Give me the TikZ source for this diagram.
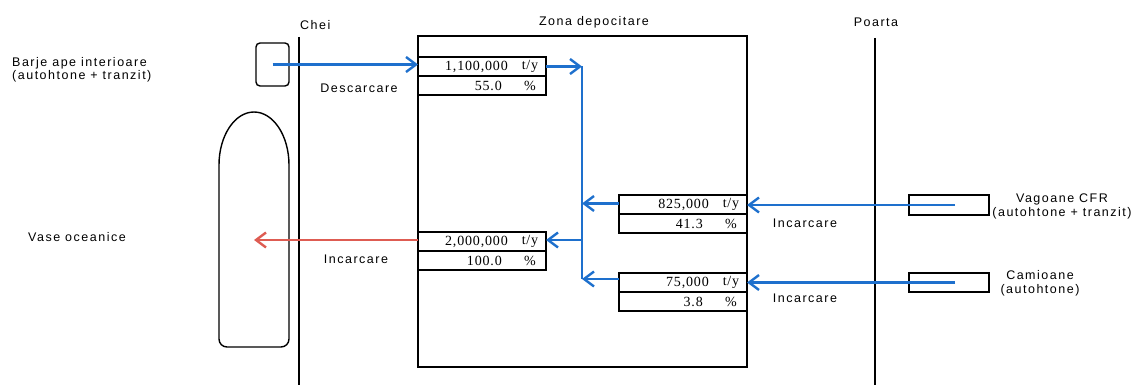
\documentclass[tikz,border=0pt]{standalone}
\usepackage{fontspec}
\setmainfont[LetterSpace=12]{Liberation Sans}
\newfontfamily\numfont[LetterSpace=6]{Liberation Serif}
\usetikzlibrary{arrows.meta}
\definecolor{flowblue}{RGB}{30,112,205}
\definecolor{flowred}{RGB}{222,92,82}
\begin{document}
\begin{tikzpicture}[x=1pt,y=-1pt,
  lbl/.style={font=\fontsize{12.5}{13.5}\selectfont, inner sep=0pt, align=center},
  rowbox/.style={draw, line width=1.4pt, minimum width=128pt, minimum height=19pt, inner sep=0pt, outer sep=0pt, anchor=north west},
  num/.style={font=\numfont\fontsize{14}{14}\selectfont, inner sep=0pt, anchor=east},
  unit/.style={font=\numfont\fontsize{14}{14}\selectfont, inner sep=0pt},
  wall/.style={line width=1.4pt},
  plainbox/.style={draw, line width=1.4pt, inner sep=0pt, outer sep=0pt, anchor=north west},
  flowline/.style={line width=2.8pt, flowblue},
  flow/.style={flowline, -{Straight Barb[length=10pt,width=15pt,line width=2.4pt]}},
  redflow/.style={line width=2.8pt, flowred, -{Straight Barb[length=10pt,width=15pt,line width=2.4pt]}},
]
\useasboundingbox (0,0) rectangle (1144,385);

% walls
\coordinate (cheiTop) at (299,37);
\coordinate (cheiBot) at (299,385);
\coordinate (poartaTop) at (875,38);
\coordinate (poartaBot) at (875,385);
\draw[wall] (cheiTop) -- (cheiBot);
\draw[wall] (poartaTop) -- (poartaBot);
\node[lbl, anchor=west] (chei) at (300,25) {Chei};
\node[lbl] (poarta) at (876,22) {Poarta};

% storage zone
\node[plainbox, minimum width=329pt, minimum height=331pt] (zone) at (418,36) {};
\node[lbl] (zonet) at (594,22) {Zona depocitare};

% ship
\draw[wall] (219,165) .. controls (219,135.7) and (234.7,112) .. (254,112)
  .. controls (273.3,112) and (289,135.7) .. (289,165)
  [rounded corners=8pt] -- (289,347) -- (219,347) -- (219,165);
\coordinate (shipc) at (254,240);

% barge box
\node[plainbox, rounded corners=4pt, minimum width=33pt, minimum height=43pt] (barje) at (256,43) {};

% wagons and trucks
\node[plainbox, minimum width=80pt, minimum height=20pt] (vag) at (909,195) {};
\node[plainbox, minimum width=80pt, minimum height=19pt] (cam) at (909,273) {};

% data boxes
\node[rowbox] (b1a) at (418,57) {};
\node[rowbox] (b1b) at (b1a.south west) {};
\node[num] at ([xshift=-38pt]b1a.east) {1,100,000};
\node[unit] at ([xshift=-16pt]b1a.east) {t/y};
\node[num] at ([xshift=-44pt]b1b.east) {55.0};
\node[unit] at ([xshift=-16pt]b1b.east) {\%};

\node[rowbox] (b2a) at (619,195) {};
\node[rowbox] (b2b) at (b2a.south west) {};
\node[num] at ([xshift=-38pt]b2a.east) {825,000};
\node[unit] at ([xshift=-16pt]b2a.east) {t/y};
\node[num] at ([xshift=-44pt]b2b.east) {41.3};
\node[unit] at ([xshift=-16pt]b2b.east) {\%};

\node[rowbox] (b3a) at (418,232) {};
\node[rowbox] (b3b) at (b3a.south west) {};
\node[num] at ([xshift=-38pt]b3a.east) {2,000,000};
\node[unit] at ([xshift=-16pt]b3a.east) {t/y};
\node[num] at ([xshift=-44pt]b3b.east) {100.0};
\node[unit] at ([xshift=-16pt]b3b.east) {\%};

\node[rowbox] (b4a) at (619,273) {};
\node[rowbox] (b4b) at (b4a.south west) {};
\node[num] at ([xshift=-38pt]b4a.east) {75,000};
\node[unit] at ([xshift=-16pt]b4a.east) {t/y};
\node[num] at ([xshift=-44pt]b4b.east) {3.8};
\node[unit] at ([xshift=-16pt]b4b.east) {\%};

% labels
\node[lbl, anchor=west, align=left] (barjeL) at (12,70) {Barje ape interioare\\(autohtone + tranzit)};
\node[lbl] (desc) at (359,88) {Descarcare};
\node[lbl] (vase) at (77,237) {Vase oceanice};
\node[lbl] (inc1) at (356,259) {Incarcare};
\node[lbl] (inc2) at (805,223) {Incarcare};
\node[lbl] (inc3) at (805,298) {Incarcare};
\node[lbl] (vagL) at (1062,206.5) {Vagoane CFR\\(autohtone + tranzit)};
\node[lbl] (camL) at (1040,283.5) {Camioane\\(autohtone)};

% flows
\coordinate (jx) at (582,0);
\coordinate (jtop) at (b1a.east -| jx);
\coordinate (jbot) at ([yshift=3.5pt]b4a.west -| jx);
\draw[flowline] (jtop) -- (jbot);
\draw[flow] (barje.center) -- (barje.center -| b1a.west);
\draw[flow] (b1a.east) -- (jtop);
\draw[flow] ([yshift=1pt]b2a.west) -- ([yshift=1pt]b2a.west -| jx);
\draw[flow] ([yshift=1.5pt]b3a.east -| jx) -- ([yshift=1.5pt]b3a.east);
\draw[flow] ([yshift=3.5pt]b4a.west) -- (jbot);
\draw[flow] ([xshift=6pt]vag.center) -- (vag.center -| b2a.east);
\draw[flow] ([xshift=6pt]cam.center) -- (cam.center -| b4a.east);
\draw[redflow] ([yshift=1.5pt]b3a.west) -- ([yshift=1.5pt]b3a.west -| shipc);
\end{tikzpicture}
\end{document}
